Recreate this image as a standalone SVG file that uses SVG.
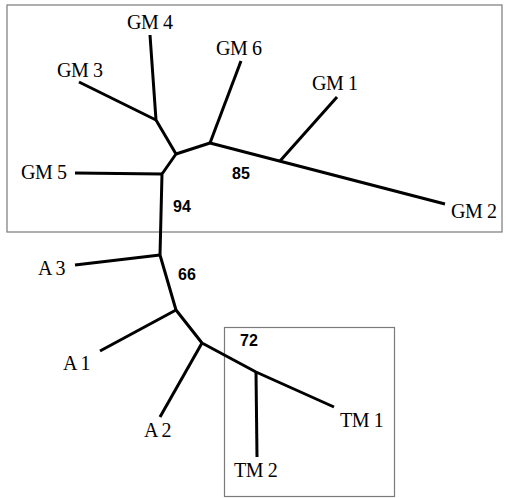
<svg xmlns="http://www.w3.org/2000/svg" width="506" height="498" viewBox="0 0 506 498">
<style>
.box{fill:none;stroke:#7a7a7a;stroke-width:1.2}
.br{fill:none;stroke:#000;stroke-width:3;stroke-linecap:butt;stroke-linejoin:round}
.lab{font-family:"Liberation Serif",serif;font-size:20px;letter-spacing:-0.4px;fill:#000}
.bs{font-family:"Liberation Sans",sans-serif;font-size:16px;font-weight:bold;fill:#000}
</style>
<rect width="506" height="498" fill="#fff"/>
<rect class="box" x="7" y="5" width="495" height="227"/>
<rect class="box" x="224.5" y="327.5" width="170" height="169"/>
<g id="connectors">
<polyline class="br" points="150,35 156,120 176,154 162,174 160,255 176,310 202,343 256,372 334,407"/>
<polyline class="br" points="79,82 156,120"/>
<polyline class="br" points="176,154 210,143 445,204"/>
<polyline class="br" points="241,61 210,143"/>
<polyline class="br" points="337,97 280,161"/>
<polyline class="br" points="75,173 162,174"/>
<polyline class="br" points="75,265 160,255"/>
<polyline class="br" points="100,351 176,310"/>
<polyline class="br" points="160,417 202,343"/>
<polyline class="br" points="256,372 257,457"/>
</g>
<g id="GM4"><text class="lab" x="127" y="29">GM 4</text></g>
<g id="GM3"><text class="lab" x="57" y="77">GM 3</text></g>
<g id="GM6"><text class="lab" x="216" y="55">GM 6</text></g>
<g id="GM5"><text class="lab" x="21" y="179">GM 5</text></g>
<g id="GM1"><text class="lab" x="312" y="90">GM 1</text></g>
<g id="GM2"><text class="lab" x="451" y="218">GM 2</text></g>
<g id="A3"><text class="lab" x="38" y="275">A 3</text></g>
<g id="A1"><text class="lab" x="63" y="370">A 1</text></g>
<g id="A2"><text class="lab" x="144" y="437">A 2</text></g>
<g id="TM1"><text class="lab" x="340" y="427">TM 1</text></g>
<g id="TM2"><text class="lab" x="234" y="477">TM 2</text></g>
<g id="bootstrap">
<text class="bs" x="232" y="179">85</text>
<text class="bs" x="173" y="212">94</text>
<text class="bs" x="178" y="280">66</text>
<text class="bs" x="240" y="346">72</text>
</g>
</svg>
